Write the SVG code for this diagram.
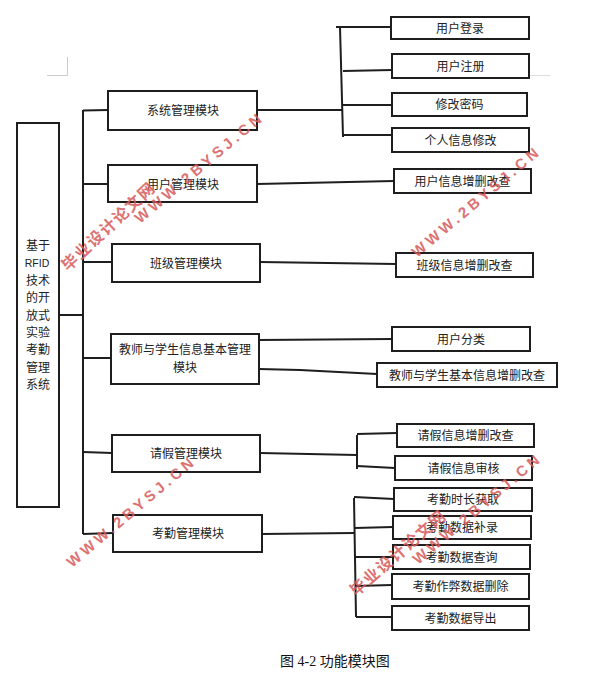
<svg xmlns="http://www.w3.org/2000/svg" width="599" height="680" viewBox="0 0 599 680">
<style>
.box{fill:#fff;stroke:#1e1e1e;stroke-width:2}
.t{font-family:"Noto Sans CJK SC","Liberation Sans",sans-serif;font-size:12px;fill:#222;text-anchor:middle}
.ln{stroke:#1e1e1e;stroke-width:2;fill:none}
.wm{font-family:"Liberation Sans","Noto Sans CJK SC",sans-serif;font-weight:bold;fill:#d65a5a;opacity:0.85}
</style>
<rect width="599" height="680" fill="#fff"/>
<g id="cropmarks" stroke="#cccccc" stroke-width="1" fill="none">
<path d="M67.5 57V75.5H47"/>
<path d="M529 75.5H550" stroke="#dddddd"/>
</g>
<g id="connectors" class="ln">
<path d="M59 315H83"/>
<path d="M83 110V534"/>
<path d="M83 110.5L108 110"/>
<path d="M83 184H108"/>
<path d="M83 262H112"/>
<path d="M83 358H111"/>
<path d="M83 452L112 453"/>
<path d="M83 534L113 533"/>
<path d="M257 110H343"/>
<path d="M340 27L343 137"/>
<path d="M336 27H391"/>
<path d="M343 71L392 70"/>
<path d="M342 105H392"/>
<path d="M343 135H395"/>
<path d="M257 184L394 181"/>
<path d="M260 262L396 264"/>
<path d="M259 340L392 339"/>
<path d="M259 369L300 370L377 374"/>
<path d="M260 453L357 455"/>
<path d="M357 435V469"/>
<path d="M357 434L397 433"/>
<path d="M357 466L395 468"/>
<path d="M262 534L354 533"/>
<path d="M354 498L356 617"/>
<path d="M354 497L394 499"/>
<path d="M355 528L393 527"/>
<path d="M355 557H393"/>
<path d="M355 586L392 585"/>
<path d="M356 617H392"/>
</g>
<g id="root">
<rect class="box" x="17" y="123" width="42" height="384"/>
<g class="t" text-anchor="middle">
<text x="38" y="249.5">基于</text>
<text x="37" y="267" style="font-family:'Liberation Sans',sans-serif;font-size:10.5px">RFID</text>
<text x="38" y="284.5">技术</text>
<text x="38" y="301.5">的开</text>
<text x="38" y="319.5">放式</text>
<text x="38" y="336.5">实验</text>
<text x="38" y="353.5">考勤</text>
<text x="38" y="371.5">管理</text>
<text x="38" y="388.5">系统</text>
</g>
</g>
<g id="m1"><rect class="box" x="108" y="91" width="149" height="39"/><text class="t" x="183" y="115">系统管理模块</text></g>
<g id="m2"><rect class="box" x="108" y="165" width="149" height="37"/><text class="t" x="183" y="188.5">用户管理模块</text></g>
<g id="m3"><rect class="box" x="112" y="244" width="148" height="38"/><text class="t" x="186" y="267.5">班级管理模块</text></g>
<g id="m4"><rect class="box" x="111" y="334" width="148" height="50"/><text class="t" x="185" y="353.5">教师与学生信息基本管理</text><text class="t" x="185" y="371.5">模块</text></g>
<g id="m5"><rect class="box" x="112" y="435" width="148" height="37"/><text class="t" x="186" y="457.5">请假管理模块</text></g>
<g id="m6"><rect class="box" x="113" y="515" width="149" height="37"/><text class="t" x="188" y="537.5">考勤管理模块</text></g>
<g id="s1"><rect class="box" x="391" y="17" width="138" height="22"/><text class="t" x="460" y="32.5">用户登录</text></g>
<g id="s2"><rect class="box" x="392" y="54" width="137" height="24"/><text class="t" x="460.5" y="70.5">用户注册</text></g>
<g id="s3"><rect class="box" x="392" y="93" width="135" height="23"/><text class="t" x="459.5" y="109">修改密码</text></g>
<g id="s4"><rect class="box" x="392" y="128" width="137" height="24"/><text class="t" x="460.5" y="144.5">个人信息修改</text></g>
<g id="s5"><rect class="box" x="394" y="169" width="137" height="24"/><text class="t" x="462.5" y="185.5">用户信息增删改查</text></g>
<g id="s6"><rect class="box" x="396" y="253" width="137" height="24"/><text class="t" x="464.5" y="269.5">班级信息增删改查</text></g>
<g id="s7"><rect class="box" x="392" y="327" width="138" height="24"/><text class="t" x="461" y="343.5">用户分类</text></g>
<g id="s8"><rect class="box" x="377" y="363" width="180" height="24"/><text class="t" x="467" y="379.5">教师与学生基本信息增删改查</text></g>
<g id="s9"><rect class="box" x="397" y="424" width="137" height="23"/><text class="t" x="465.5" y="440">请假信息增删改查</text></g>
<g id="s10"><rect class="box" x="395" y="456" width="137" height="24"/><text class="t" x="463.5" y="472.5">请假信息审核</text></g>
<g id="s11"><rect class="box" x="394" y="488" width="138" height="23"/><text class="t" x="463" y="504">考勤时长获取</text></g>
<g id="s12"><rect class="box" x="393" y="516" width="138" height="23"/><text class="t" x="462" y="532">考勤数据补录</text></g>
<g id="s13"><rect class="box" x="393" y="545" width="137" height="24"/><text class="t" x="461.5" y="561.5">考勤数据查询</text></g>
<g id="s14"><rect class="box" x="392" y="574" width="137" height="25"/><text class="t" x="460.5" y="591">考勤作弊数据删除</text></g>
<g id="s15"><rect class="box" x="392" y="606" width="137" height="24"/><text class="t" x="460.5" y="622.5">考勤数据导出</text></g>
<text id="caption" x="280" y="666" style="font-family:'Liberation Serif','Noto Sans CJK SC',serif;font-size:14px;fill:#111">图 4-2 功能模块图</text>
<g id="watermark">
<text class="wm" font-size="15" x="140" y="224" textLength="160" lengthAdjust="spacing" transform="rotate(-40 140 224)">WWW.2BYSJ.CN</text>
<text class="wm" font-size="15" x="417" y="258" textLength="160" lengthAdjust="spacing" transform="rotate(-40 417 258)">WWW.2BYSJ.CN</text>
<text class="wm" font-size="15" x="72" y="568" textLength="160" lengthAdjust="spacing" transform="rotate(-40 72 568)">WWW.2BYSJ.CN</text>
<text class="wm" font-size="15" x="418" y="565" textLength="160" lengthAdjust="spacing" transform="rotate(-40 418 565)">WWW.2BYSJ.CN</text>
<text class="wm" font-size="16" x="68" y="272" textLength="120" lengthAdjust="spacing" transform="rotate(-43 68 272)" style="font-family:'Noto Sans CJK SC',sans-serif">毕业设计论文网</text>
<text class="wm" font-size="16" x="356" y="597" textLength="120" lengthAdjust="spacing" transform="rotate(-41 356 597)" style="font-family:'Noto Sans CJK SC',sans-serif">毕业设计论文网</text>
</g>
</svg>
